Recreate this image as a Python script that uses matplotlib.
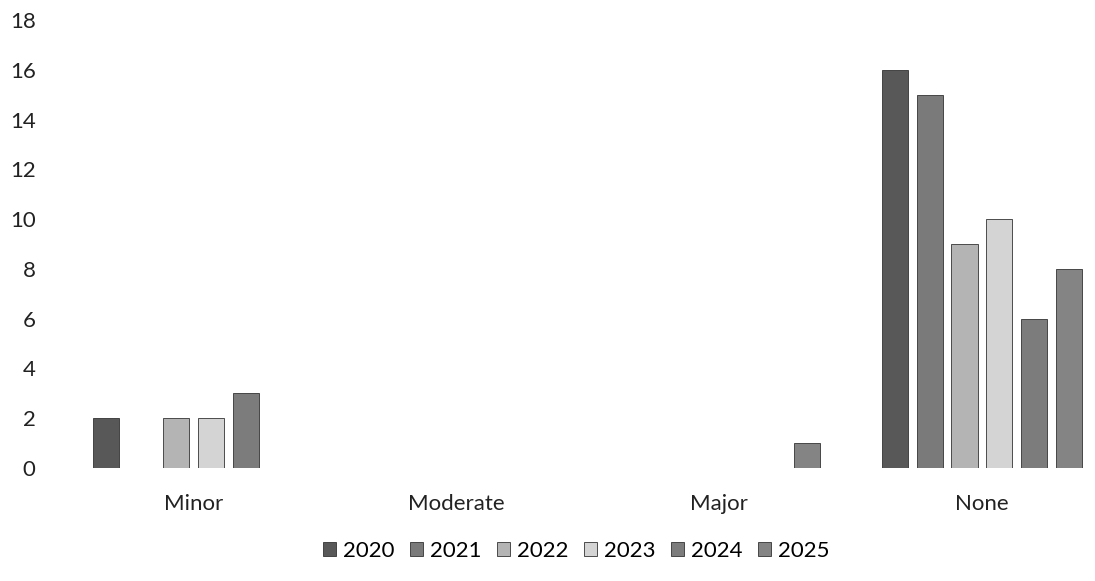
import numpy as np
import matplotlib.pyplot as plt

plt.rcParams['font.family'] = ['Lato', 'DejaVu Sans']

categories = ['Minor', 'Moderate', 'Major', 'None']
years = ['2020', '2021', '2022', '2023', '2024', '2025']
values = {
    '2020': [2, 0, 0, 16],
    '2021': [0, 0, 0, 15],
    '2022': [2, 0, 0, 9],
    '2023': [2, 0, 0, 10],
    '2024': [3, 0, 0, 6],
    '2025': [0, 0, 1, 8],
}
colors = ['#585858', '#7a7a7a', '#b4b4b4', '#d4d4d4', '#7c7c7c', '#848484']

fig = plt.figure(figsize=(10.95, 5.81), dpi=100)
ax = fig.add_axes([62 / 1095, 1 - 468 / 581, 1 - 62 / 1095, (468 - 20) / 581])

x = np.arange(len(categories))
slot = 0.133
width = 0.099
for i, yr in enumerate(years):
    ax.bar(x + (i - 2.5) * slot, values[yr], width, color=colors[i],
           edgecolor='#333333', linewidth=0.6, label=yr)

ax.set_ylim(0, 18)
ax.set_yticks(np.arange(0, 19, 2))
ax.set_xlim(-0.5, 3.43)
ax.set_xticks(x)
ax.set_xticklabels(categories)
ax.tick_params(axis='both', length=0, labelsize=16, colors='#222222')
ax.tick_params(axis='y', pad=19)
ax.tick_params(axis='x', pad=19)
for s in ax.spines.values():
    s.set_visible(False)

fig.legend(loc='center', bbox_to_anchor=(576 / 1095, 1 - 551 / 581), ncol=6,
           frameon=False, fontsize=16, handlelength=0.6, handleheight=0.6,
           handletextpad=0.3, columnspacing=0.7)

fig.savefig('out.png', dpi=100)
